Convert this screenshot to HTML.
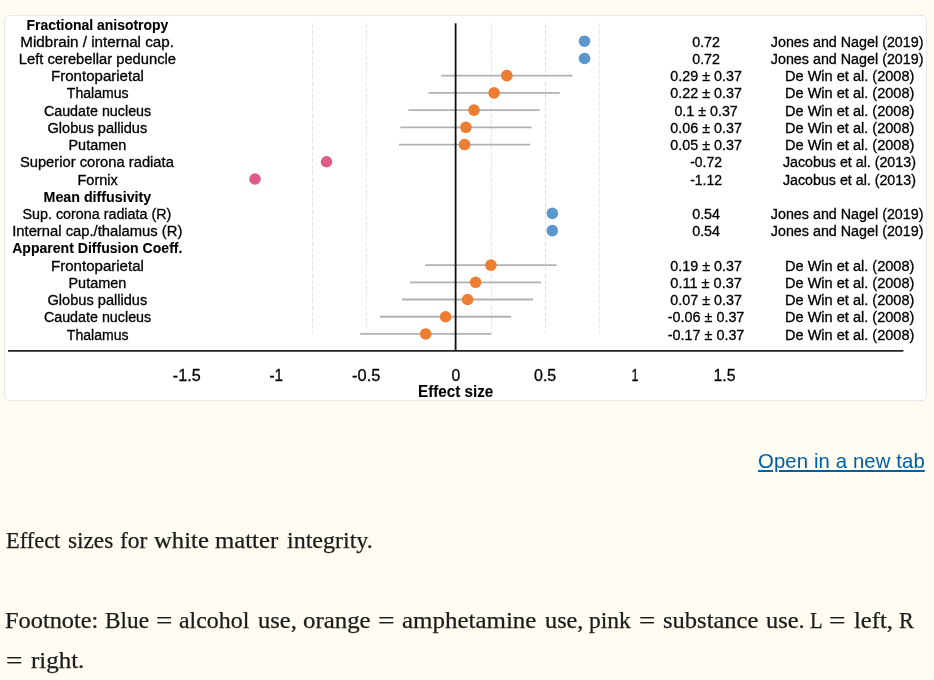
<!DOCTYPE html>
<html lang="en"><head><meta charset="utf-8"><title>Effect sizes for white matter integrity</title>
<style>
html,body{margin:0;padding:0}
body{width:934px;height:680px;overflow:hidden;background:#fefcf0;position:relative;font-family:"Liberation Serif",serif;color:#1b1b1b}
.fig{position:absolute;left:4px;top:15px;width:921px;height:384px;background:#fff;border:1px solid #e9e9ec;border-radius:5px;overflow:hidden}
.fig svg{will-change:transform;position:absolute;left:-5px;top:-16px;font-family:"Liberation Sans",sans-serif;fill:#000}
.fig svg text{stroke:#000;stroke-width:.3px}
.fig svg text[font-weight]{stroke-width:.1px}
a.tab{will-change:transform;position:absolute;right:9px;top:446.6px;letter-spacing:.13px;font-family:"Liberation Sans",sans-serif;font-size:20.3px;line-height:28px;color:#005ea2;text-decoration:underline;text-decoration-thickness:1.5px;text-underline-offset:2px;white-space:nowrap}
p{will-change:transform;position:absolute;left:0;margin:0;width:934px;height:40px;font-size:22.2px;line-height:40px;white-space:nowrap}
p span{position:absolute;top:0;-webkit-text-stroke:.25px #1b1b1b;display:inline-block;transform-origin:0 50%}
</style></head><body>
<div class="fig"><svg width="934" height="420" viewBox="0 0 934 420">
<line x1="312.6" y1="23.6" x2="312.6" y2="333.5" stroke="#e3e3e3" stroke-width="1" stroke-dasharray="4.4 2"/>
<line x1="366.3" y1="23.6" x2="366.3" y2="333.5" stroke="#e3e3e3" stroke-width="1" stroke-dasharray="4.4 2"/>
<line x1="491.4" y1="23.6" x2="491.4" y2="333.5" stroke="#e3e3e3" stroke-width="1" stroke-dasharray="4.4 2"/>
<line x1="545.5" y1="23.6" x2="545.5" y2="333.5" stroke="#e3e3e3" stroke-width="1" stroke-dasharray="4.4 2"/>
<line x1="599.3" y1="23.6" x2="599.3" y2="333.5" stroke="#e3e3e3" stroke-width="1" stroke-dasharray="4.4 2"/>
<line x1="441.2" y1="75.66" x2="572.4" y2="75.66" stroke="#b2b2b2" stroke-width="1.8"/>
<line x1="428.5" y1="92.88" x2="559.7" y2="92.88" stroke="#b2b2b2" stroke-width="1.8"/>
<line x1="408.4" y1="110.10" x2="539.6" y2="110.10" stroke="#b2b2b2" stroke-width="1.8"/>
<line x1="400.3" y1="127.32" x2="531.5" y2="127.32" stroke="#b2b2b2" stroke-width="1.8"/>
<line x1="399.0" y1="144.54" x2="530.2" y2="144.54" stroke="#b2b2b2" stroke-width="1.8"/>
<line x1="425.3" y1="265.08" x2="556.5" y2="265.08" stroke="#b2b2b2" stroke-width="1.8"/>
<line x1="410.0" y1="282.30" x2="541.2" y2="282.30" stroke="#b2b2b2" stroke-width="1.8"/>
<line x1="402.0" y1="299.52" x2="533.2" y2="299.52" stroke="#b2b2b2" stroke-width="1.8"/>
<line x1="380.0" y1="316.74" x2="511.2" y2="316.74" stroke="#b2b2b2" stroke-width="1.8"/>
<line x1="360.1" y1="333.96" x2="491.3" y2="333.96" stroke="#b2b2b2" stroke-width="1.8"/>
<line x1="455.6" y1="23.3" x2="455.6" y2="351" stroke="#111" stroke-width="1.8"/>
<line x1="8.1" y1="350.9" x2="903.4" y2="350.9" stroke="#222" stroke-width="1.9"/>
<circle cx="584.5" cy="41.22" r="5.8" fill="#5a97cf"/>
<circle cx="584.5" cy="58.44" r="5.8" fill="#5a97cf"/>
<circle cx="506.8" cy="75.66" r="5.8" fill="#ed7d31"/>
<circle cx="494.1" cy="92.88" r="5.8" fill="#ed7d31"/>
<circle cx="474.0" cy="110.10" r="5.8" fill="#ed7d31"/>
<circle cx="465.9" cy="127.32" r="5.8" fill="#ed7d31"/>
<circle cx="464.6" cy="144.54" r="5.8" fill="#ed7d31"/>
<circle cx="326.5" cy="161.76" r="5.8" fill="#df5b8a"/>
<circle cx="255.0" cy="178.98" r="5.8" fill="#df5b8a"/>
<circle cx="552.3" cy="213.42" r="5.8" fill="#5a97cf"/>
<circle cx="552.3" cy="230.64" r="5.8" fill="#5a97cf"/>
<circle cx="490.9" cy="265.08" r="5.8" fill="#ed7d31"/>
<circle cx="475.6" cy="282.30" r="5.8" fill="#ed7d31"/>
<circle cx="467.6" cy="299.52" r="5.8" fill="#ed7d31"/>
<circle cx="445.6" cy="316.74" r="5.8" fill="#ed7d31"/>
<circle cx="425.7" cy="333.96" r="5.8" fill="#ed7d31"/>
<text x="26.50" y="29.60" font-size="14.0" textLength="141.78" lengthAdjust="spacingAndGlyphs" font-weight="700">Fractional anisotropy</text>
<text x="20.30" y="46.82" font-size="14.0" textLength="153.62" lengthAdjust="spacingAndGlyphs">Midbrain / internal cap.</text>
<text x="18.80" y="64.04" font-size="14.0" textLength="157.19" lengthAdjust="spacingAndGlyphs">Left cerebellar peduncle</text>
<text x="51.00" y="81.26" font-size="14.0" textLength="92.90" lengthAdjust="spacingAndGlyphs">Frontoparietal</text>
<text x="66.80" y="98.48" font-size="14.0" textLength="61.71" lengthAdjust="spacingAndGlyphs">Thalamus</text>
<text x="43.90" y="115.70" font-size="14.0" textLength="107.31" lengthAdjust="spacingAndGlyphs">Caudate nucleus</text>
<text x="47.50" y="132.92" font-size="14.0" textLength="99.76" lengthAdjust="spacingAndGlyphs">Globus pallidus</text>
<text x="68.50" y="150.14" font-size="14.0" textLength="57.77" lengthAdjust="spacingAndGlyphs">Putamen</text>
<text x="19.90" y="167.36" font-size="14.0" textLength="153.94" lengthAdjust="spacingAndGlyphs">Superior corona radiata</text>
<text x="77.50" y="184.58" font-size="14.0" textLength="40.28" lengthAdjust="spacingAndGlyphs">Fornix</text>
<text x="43.50" y="201.80" font-size="14.0" textLength="107.73" lengthAdjust="spacingAndGlyphs" font-weight="700">Mean diffusivity</text>
<text x="22.50" y="219.02" font-size="14.0" textLength="148.79" lengthAdjust="spacingAndGlyphs">Sup. corona radiata (R)</text>
<text x="12.20" y="236.24" font-size="14.0" textLength="170.20" lengthAdjust="spacingAndGlyphs">Internal cap./thalamus (R)</text>
<text x="12.20" y="253.46" font-size="14.0" textLength="170.21" lengthAdjust="spacingAndGlyphs" font-weight="700">Apparent Diffusion Coeff.</text>
<text x="51.00" y="270.68" font-size="14.0" textLength="92.90" lengthAdjust="spacingAndGlyphs">Frontoparietal</text>
<text x="68.50" y="287.90" font-size="14.0" textLength="57.77" lengthAdjust="spacingAndGlyphs">Putamen</text>
<text x="47.50" y="305.12" font-size="14.0" textLength="99.76" lengthAdjust="spacingAndGlyphs">Globus pallidus</text>
<text x="43.90" y="322.34" font-size="14.0" textLength="107.31" lengthAdjust="spacingAndGlyphs">Caudate nucleus</text>
<text x="66.80" y="339.56" font-size="14.0" textLength="61.71" lengthAdjust="spacingAndGlyphs">Thalamus</text>
<text x="692.20" y="46.82" font-size="14.0" textLength="27.82" lengthAdjust="spacingAndGlyphs">0.72</text>
<text x="770.80" y="46.82" font-size="14.0" textLength="152.69" lengthAdjust="spacingAndGlyphs">Jones and Nagel (2019)</text>
<text x="692.20" y="64.04" font-size="14.0" textLength="27.82" lengthAdjust="spacingAndGlyphs">0.72</text>
<text x="770.80" y="64.04" font-size="14.0" textLength="152.69" lengthAdjust="spacingAndGlyphs">Jones and Nagel (2019)</text>
<text x="670.35" y="81.26" font-size="14.0" textLength="71.53" lengthAdjust="spacingAndGlyphs">0.29 ± 0.37</text>
<text x="785.00" y="81.26" font-size="14.0" textLength="129.37" lengthAdjust="spacingAndGlyphs">De Win et al. (2008)</text>
<text x="670.35" y="98.48" font-size="14.0" textLength="71.53" lengthAdjust="spacingAndGlyphs">0.22 ± 0.37</text>
<text x="785.00" y="98.48" font-size="14.0" textLength="129.37" lengthAdjust="spacingAndGlyphs">De Win et al. (2008)</text>
<text x="674.40" y="115.70" font-size="14.0" textLength="63.41" lengthAdjust="spacingAndGlyphs">0.1 ± 0.37</text>
<text x="785.00" y="115.70" font-size="14.0" textLength="129.37" lengthAdjust="spacingAndGlyphs">De Win et al. (2008)</text>
<text x="670.35" y="132.92" font-size="14.0" textLength="71.53" lengthAdjust="spacingAndGlyphs">0.06 ± 0.37</text>
<text x="785.00" y="132.92" font-size="14.0" textLength="129.37" lengthAdjust="spacingAndGlyphs">De Win et al. (2008)</text>
<text x="670.35" y="150.14" font-size="14.0" textLength="71.53" lengthAdjust="spacingAndGlyphs">0.05 ± 0.37</text>
<text x="785.00" y="150.14" font-size="14.0" textLength="129.37" lengthAdjust="spacingAndGlyphs">De Win et al. (2008)</text>
<text x="690.20" y="167.36" font-size="14.0" textLength="31.79" lengthAdjust="spacingAndGlyphs">-0.72</text>
<text x="782.90" y="167.36" font-size="14.0" textLength="132.99" lengthAdjust="spacingAndGlyphs">Jacobus et al. (2013)</text>
<text x="690.20" y="184.58" font-size="14.0" textLength="31.79" lengthAdjust="spacingAndGlyphs">-1.12</text>
<text x="782.90" y="184.58" font-size="14.0" textLength="132.99" lengthAdjust="spacingAndGlyphs">Jacobus et al. (2013)</text>
<text x="692.20" y="219.02" font-size="14.0" textLength="27.82" lengthAdjust="spacingAndGlyphs">0.54</text>
<text x="770.80" y="219.02" font-size="14.0" textLength="152.69" lengthAdjust="spacingAndGlyphs">Jones and Nagel (2019)</text>
<text x="692.20" y="236.24" font-size="14.0" textLength="27.82" lengthAdjust="spacingAndGlyphs">0.54</text>
<text x="770.80" y="236.24" font-size="14.0" textLength="152.69" lengthAdjust="spacingAndGlyphs">Jones and Nagel (2019)</text>
<text x="670.35" y="270.68" font-size="14.0" textLength="71.53" lengthAdjust="spacingAndGlyphs">0.19 ± 0.37</text>
<text x="785.00" y="270.68" font-size="14.0" textLength="129.37" lengthAdjust="spacingAndGlyphs">De Win et al. (2008)</text>
<text x="670.35" y="287.90" font-size="14.0" textLength="71.47" lengthAdjust="spacingAndGlyphs">0.11 ± 0.37</text>
<text x="785.00" y="287.90" font-size="14.0" textLength="129.37" lengthAdjust="spacingAndGlyphs">De Win et al. (2008)</text>
<text x="670.35" y="305.12" font-size="14.0" textLength="71.53" lengthAdjust="spacingAndGlyphs">0.07 ± 0.37</text>
<text x="785.00" y="305.12" font-size="14.0" textLength="129.37" lengthAdjust="spacingAndGlyphs">De Win et al. (2008)</text>
<text x="667.85" y="322.34" font-size="14.0" textLength="76.50" lengthAdjust="spacingAndGlyphs">-0.06 ± 0.37</text>
<text x="785.00" y="322.34" font-size="14.0" textLength="129.37" lengthAdjust="spacingAndGlyphs">De Win et al. (2008)</text>
<text x="667.85" y="339.56" font-size="14.0" textLength="76.50" lengthAdjust="spacingAndGlyphs">-0.17 ± 0.37</text>
<text x="785.00" y="339.56" font-size="14.0" textLength="129.37" lengthAdjust="spacingAndGlyphs">De Win et al. (2008)</text>
<text x="172.80" y="380.55" font-size="17.3" textLength="27.87" lengthAdjust="spacingAndGlyphs">-1.5</text>
<text x="269.50" y="380.55" font-size="17.3" textLength="13.59" lengthAdjust="spacingAndGlyphs">-1</text>
<text x="352.10" y="380.55" font-size="17.3" textLength="28.17" lengthAdjust="spacingAndGlyphs">-0.5</text>
<text x="451.40" y="380.55" font-size="17.3" textLength="8.72" lengthAdjust="spacingAndGlyphs">0</text>
<text x="534.00" y="380.55" font-size="17.3" textLength="22.30" lengthAdjust="spacingAndGlyphs">0.5</text>
<text x="631.60" y="380.55" font-size="17.3" textLength="7.01" lengthAdjust="spacingAndGlyphs">1</text>
<text x="713.50" y="380.55" font-size="17.3" textLength="22.00" lengthAdjust="spacingAndGlyphs">1.5</text>
<text x="418.00" y="396.95" font-size="17" textLength="75.32" lengthAdjust="spacingAndGlyphs" font-weight="700">Effect size</text>
</svg></div>
<a class="tab">Open in a new tab</a>
<p style="top:520.5px"><span style="left:5.53px;transform:scaleX(1.0097)">Effect</span> <span style="left:67.58px;transform:scaleX(1.0476)">sizes</span> <span style="left:120.15px;transform:scaleX(1.0561)">for</span> <span style="left:154.36px;transform:scaleX(1.1124)">white</span> <span style="left:215.49px;transform:scaleX(1.1154)">matter</span> <span style="left:286.67px;transform:scaleX(1.0823)">integrity.</span></p>
<p style="top:600.5px"><span style="left:5.36px;transform:scaleX(1.0978)">Footnote:</span> <span style="left:104.66px;transform:scaleX(1.0498)">Blue</span> <span style="left:156.33px;transform:scaleX(1.3129)">=</span> <span style="left:179.18px;transform:scaleX(1.0774)">alcohol</span> <span style="left:257.59px;transform:scaleX(1.1065)">use,</span> <span style="left:302.83px;transform:scaleX(1.1208)">orange</span> <span style="left:378.22px;transform:scaleX(1.3241)">=</span> <span style="left:401.94px;transform:scaleX(1.1246)">amphetamine</span> <span style="left:544.54px;transform:scaleX(1.0939)">use,</span> <span style="left:588.83px;transform:scaleX(1.0583)">pink</span> <span style="left:638.58px;transform:scaleX(1.3023)">=</span> <span style="left:663.15px;transform:scaleX(1.1058)">substance</span> <span style="left:765.66px;transform:scaleX(1.1022)">use.</span> <span style="left:810.43px;transform:scaleX(0.9337)">L</span> <span style="left:829.37px;transform:scaleX(1.3185)">=</span> <span style="left:853.73px;transform:scaleX(1.1097)">left,</span> <span style="left:898.68px;transform:scaleX(0.9984)">R</span></p>
<p style="top:640.5px"><span style="left:5.56px;transform:scaleX(1.3145)">=</span> <span style="left:30.50px;transform:scaleX(1.1240)">right.</span></p>
</body></html>
